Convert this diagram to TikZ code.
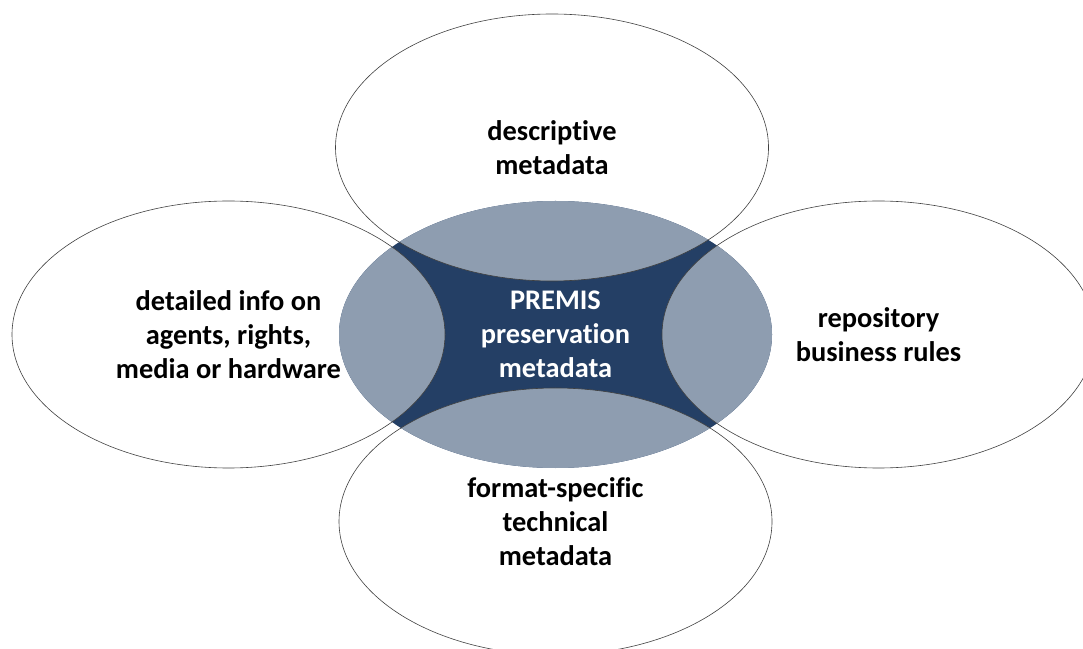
\documentclass[tikz,border=0pt]{standalone}
\usepackage{fontspec}
\setmainfont{Carlito}[Ligatures=NoCommon]
\usetikzlibrary{positioning}
\definecolor{premislight}{HTML}{8E9DB0}
\definecolor{premisdark}{HTML}{243F65}
\newcommand{\ellrx}{216.5}
\newcommand{\ellry}{133.5}

\begin{document}
\begin{tikzpicture}[x=1pt,y=1pt,
	lbl/.style={align=center,font=\fontsize{28.4}{34.2}\selectfont\bfseries,text=black},
	rim/.style={draw=black!75,line width=0.6pt}]
	\useasboundingbox (0,0) rectangle (1083,648);
	% centre: dark core, lighter where the outer ellipses overlap it
	\fill[premisdark] (555.5,313.5) ellipse [x radius=\ellrx,y radius=\ellry];
	\begin{scope}
		\clip (555.5,313.5) ellipse [x radius=\ellrx,y radius=\ellry];
		\fill[premislight] (552,500.5) ellipse [x radius=\ellrx,y radius=\ellry];
		\fill[premislight] (228.5,313.5) ellipse [x radius=\ellrx,y radius=\ellry];
		\fill[premislight] (878.5,313.5) ellipse [x radius=\ellrx,y radius=\ellry];
		\fill[premislight] (555.5,126.5) ellipse [x radius=\ellrx,y radius=\ellry];
	\end{scope}
	% outer rims
	\draw[rim] (552,500.5) ellipse [x radius=\ellrx,y radius=\ellry];
	\draw[rim] (228.5,313.5) ellipse [x radius=\ellrx,y radius=\ellry];
	\draw[rim] (878.5,313.5) ellipse [x radius=\ellrx,y radius=\ellry];
	\draw[rim] (555.5,126.5) ellipse [x radius=\ellrx,y radius=\ellry];
	% labels
	\node[lbl,text=white] (premis) at (555.5,313.5) {PREMIS\\preservation\\metadata};
	\node[lbl] (descr) at (552,500.5) {descriptive\\metadata};
	\node[lbl] (agents) at (228.5,313.5) {detailed info on\\agents, rights,\\media or hardware};
	\node[lbl] (rules) at (878.5,313.5) {repository\\business rules};
	\node[lbl] (techn) at (555.5,126.5) {format-specific\\technical\\metadata};
\end{tikzpicture}
\end{document}
